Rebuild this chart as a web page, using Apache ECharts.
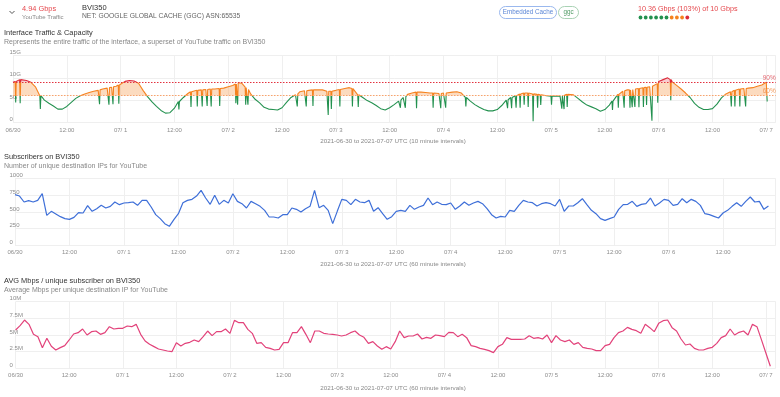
<!DOCTYPE html>
<html>
<head>
<meta charset="utf-8">
<title>BVI350</title>
<script src="https://cdn.jsdelivr.net/npm/echarts@6/dist/echarts.min.js"></script>
<style>
  html, body { margin: 0; padding: 0; background: #fff; }
  #chart { width: 780px; height: 397px; }
</style>
</head>
<body>
<div id="chart"></div>
<script>
// x axis: hours since 2021-06-30 00:00 UTC, a label every 12h
const dayLabels = ['06/30', '07/ 1', '07/ 2', '07/ 3', '07/ 4', '07/ 5', '07/ 6', '07/ 7'];
const halfDayLabel = '12:00';

// interface traffic, Gbps, one reading per hour (h0 .. h168)
const trafficGbps = [
  9.0, 9.2, 9.6, 9.4, 9.0, 8.0, 6.0, 5.0, 4.3, 3.7, 3.0, 3.0, 3.6, 4.5, 5.4, 6.0, 6.4, 6.7, 7.0, 7.2, 7.5, 7.7, 7.9, 8.1,
  8.5, 9.2, 9.4, 9.3, 8.8, 7.2, 5.8, 4.6, 3.6, 2.7, 2.1, 2.2, 3.2, 4.6, 5.6, 6.5, 7.0, 7.2, 7.3, 7.4, 7.5, 7.5, 7.6, 7.7,
  8.0, 8.3, 8.9, 8.8, 7.8, 6.4, 5.2, 4.4, 3.4, 3.0, 2.9, 2.8, 3.3, 4.5, 5.6, 6.2, 6.9, 7.1, 7.2, 7.3, 7.3, 7.3, 7.0, 7.0,
  7.2, 7.4, 7.6, 7.8, 7.3, 6.2, 5.6, 4.9, 4.4, 3.8, 3.1, 2.8, 3.3, 4.0, 4.8, 5.6, 6.3, 6.6, 6.8, 6.8, 6.7, 6.6, 6.5, 6.5,
  6.6, 6.7, 6.8, 6.9, 6.6, 5.6, 4.8, 4.0, 3.4, 2.9, 2.6, 2.6, 2.9, 3.8, 5.0, 5.6, 6.0, 6.4, 6.6, 6.6, 6.4, 6.3, 6.1, 6.0,
  5.9, 5.9, 5.9, 6.1, 6.4, 6.2, 5.4, 4.6, 3.9, 3.5, 3.1, 2.5, 2.9, 3.9, 5.2, 6.3, 7.0, 7.3, 7.4, 7.6, 7.8, 7.9, 8.0, 8.4,
  9.2, 9.6, 10.0, 9.1, 8.3, 7.5, 6.6, 5.6, 4.3, 3.4, 2.9, 2.9, 3.1, 4.1, 5.5, 6.4, 6.9, 7.2, 7.5, 7.6, 7.7, 7.8, 8.1, 8.4,
  9.0
];
// short drops between hourly readings: [hour, level around it, bottom of the drop]
const trafficDips = [
  [0.6, 9.2, 4.5], [1.6, 9.6, 4.3], [6.1, 6.0, 3.0], [19.3, 7.3, 4.1], [21.4, 7.8, 4.0], [22.3, 8.0, 4.1],
  [23.6, 8.4, 4.2], [37.0, 4.7, 2.9], [39.7, 6.9, 3.5], [41.1, 7.2, 3.6], [42.2, 7.3, 3.6], [43.3, 7.4, 3.7],
  [44.2, 7.5, 3.6], [46.1, 7.6, 3.7], [49.7, 8.6, 4.3], [50.1, 8.9, 4.0], [51.9, 7.9, 4.0], [52.4, 7.4, 4.0],
  [63.4, 6.4, 3.6], [65.4, 7.1, 3.6], [66.9, 7.3, 3.7], [70.3, 7.0, 1.7], [71.0, 7.0, 3.0], [72.9, 7.4, 3.6],
  [75.7, 7.6, 3.6], [77.0, 6.2, 3.5], [86.4, 5.0, 3.3], [87.5, 5.8, 3.3], [90.0, 6.8, 3.2], [93.7, 6.6, 3.3],
  [95.4, 6.5, 3.2], [96.5, 6.6, 3.3], [101.0, 5.6, 3.6], [110.3, 5.1, 3.2], [111.2, 5.6, 3.2], [112.2, 6.0, 3.3],
  [113.1, 6.4, 3.3], [114.0, 6.6, 4.0], [114.9, 6.6, 3.5], [116.0, 6.4, 0.3], [117.0, 6.3, 3.3], [117.7, 6.2, 3.9],
  [120.1, 5.9, 4.0], [122.4, 5.9, 3.1], [122.9, 6.0, 3.0], [123.6, 6.3, 3.5], [133.7, 4.8, 2.8], [135.0, 6.3, 3.3],
  [136.3, 7.1, 3.3], [137.6, 7.3, 3.3], [138.1, 7.4, 3.4], [138.7, 7.5, 3.5], [139.6, 7.6, 3.4], [140.6, 7.8, 3.5],
  [141.3, 7.9, 3.9], [142.5, 8.1, 0.4], [143.8, 8.7, 4.4], [146.7, 9.6, 5.0], [160.2, 6.9, 3.6], [161.0, 7.2, 3.6],
  [162.1, 7.5, 3.6], [163.4, 7.6, 3.6]
];
const trafficTail = [[168.2, 4.7]];
const trafficTickLabels = ['0', '5G', '10G', '15G'];

// unique destination IPs, one per hour (h0 .. h166)
const subscribers = [
  760, 740, 650, 670, 650, 675, 775, 450, 510, 470, 430, 400, 390, 420, 490, 485, 595, 510, 550, 600, 560, 585, 650, 610,
  635, 640, 650, 600, 675, 675, 575, 460, 400, 325, 285, 385, 475, 640, 675, 690, 740, 825, 710, 615, 750, 615, 675, 635,
  775, 660, 625, 560, 660, 625, 585, 525, 425, 425, 410, 460, 460, 560, 540, 500, 550, 585, 825, 565, 600, 525, 325, 510,
  690, 675, 610, 690, 650, 640, 675, 510, 565, 475, 390, 430, 510, 525, 510, 600, 540, 575, 600, 710, 610, 650, 615, 610,
  635, 540, 590, 650, 600, 635, 660, 625, 550, 460, 410, 435, 425, 525, 510, 600, 675, 650, 640, 590, 625, 640, 625, 590,
  690, 510, 590, 590, 640, 700, 610, 525, 475, 400, 375, 400, 425, 540, 610, 615, 660, 585, 615, 625, 710, 590, 635, 690,
  675, 600, 615, 700, 640, 690, 660, 600, 475, 460, 435, 410, 485, 525, 585, 640, 585, 660, 725, 650, 660, 540, 590
];

// average Mbps per destination IP, in millions, one per hour (h0 .. h169)
const avgMbps = [
  5.75, 6.4, 7.25, 6.6, 5.1, 4.75, 3.1, 4.5, 3.3, 2.75, 3.1, 3.4, 4.25, 5.15, 5.35, 5.9, 5.0, 5.5, 5.6, 5.1, 5.35, 6.25, 5.9, 6.0,
  6.0, 6.35, 6.25, 6.6, 5.1, 4.1, 3.6, 3.25, 2.9, 2.75, 2.6, 2.5, 3.85, 3.35, 3.75, 3.9, 4.25, 4.0, 4.75, 5.6, 4.9, 5.5, 5.5, 5.9,
  5.25, 7.2, 6.85, 6.85, 5.85, 5.25, 3.75, 3.85, 3.15, 3.0, 2.75, 2.85, 3.85, 3.85, 5.35, 5.35, 6.25, 5.1, 3.85, 5.6, 5.6, 5.25, 5.15, 5.1,
  5.0, 4.85, 5.0, 5.35, 5.6, 5.0, 4.65, 3.75, 4.0, 3.35, 2.85, 3.25, 2.9, 4.0,
  5.6, 4.6, 4.85, 4.85, 5.15, 4.4, 4.65, 4.5, 5.0, 4.9, 4.75, 5.4, 5.35, 4.75, 5.1, 4.6, 3.4, 3.25, 3.0, 2.85, 2.65, 2.35, 3.25, 3.6,
  4.6, 4.35, 4.35, 4.35, 4.4, 4.9, 4.5, 4.6, 4.4, 5.0, 3.85, 4.9, 4.25, 4.0, 4.25, 3.6, 3.85, 3.15, 3.0, 2.9, 2.65, 2.65, 3.4, 3.6,
  4.6, 5.35, 5.6, 6.15, 5.85, 5.65, 5.25, 6.6, 6.1, 5.5, 6.75, 7.15, 7.25, 6.1, 5.6, 4.4, 3.5, 3.65, 3.0, 2.75, 2.75, 3.0, 3.15, 3.75,
  4.6, 4.9, 5.9, 5.0, 5.4, 5.6, 5.0, 6.6, 6.25, 4.3, 2.3, 0.3
];
const avgTickLabels = ['0', '2.5M', '5M', '7.5M', '10M'];

const FONT = 'Liberation Sans';
const GREEN = '#23914f';
const ORANGE = '#f5821f';
const RED = '#dc2a3a';

const trafficPoints = trafficGbps.map((v, h) => [h, v]);
trafficDips.forEach(([h, top, low]) => {
  trafficPoints.push([h - 0.12, top], [h, low], [h + 0.12, top]);
});
trafficTail.forEach(p => trafficPoints.push(p));
trafficPoints.sort((a, b) => a[0] - b[0]);

function hourLabel(h) {
  if (h % 24 === 0) return dayLabels[h / 24] || '';
  return halfDayLabel;
}

function xAxisFor(gridIndex, max) {
  return {
    type: 'value', gridIndex, min: 0, max, interval: 12,
    axisLine: { show: false }, axisTick: { show: false },
    splitLine: { show: true, lineStyle: { color: '#efefef', width: 1 } },
    axisLabel: {
      formatter: hourLabel, showMaxLabel: false, margin: 4.5,
      color: '#8c8c8c', fontSize: 6, fontFamily: FONT
    }
  };
}

function yAxisFor(gridIndex, max, interval, fmt, margin) {
  return {
    type: 'value', gridIndex, min: 0, max, interval,
    axisLine: { show: false }, axisTick: { show: false },
    splitLine: { lineStyle: { color: '#efefef', width: 1 } },
    axisLabel: {
      inside: true, align: 'left', verticalAlign: 'bottom', margin,
      formatter: fmt, color: '#8c8c8c', fontSize: 6, fontFamily: FONT
    }
  };
}

function txt(x, y, text, size, color, extra) {
  return {
    type: 'text', x, y, silent: true,
    style: Object.assign({
      text, fill: color, fontSize: size, fontFamily: FONT,
      align: 'left', verticalAlign: 'middle'
    }, extra || {})
  };
}

const dotColors = [GREEN, GREEN, GREEN, GREEN, GREEN, GREEN, ORANGE, ORANGE, ORANGE, RED];

const graphics = [
  { type: 'polyline', silent: true, shape: { points: [[9.5, 11], [12, 13.5], [14.5, 11]] },
    style: { stroke: '#555', lineWidth: 1, fill: null } },
  txt(22, 8.5, '4.94 Gbps', 7.4, '#e5484d'),
  txt(22, 17.5, 'YouTube Traffic', 6, '#888'),
  txt(82, 7.5, 'BVI350', 7.5, '#333'),
  txt(82, 16.5, 'NET: GOOGLE GLOBAL CACHE (GGC) ASN:65535', 6.75, '#666'),
  { type: 'rect', silent: true, shape: { x: 499.5, y: 6.5, width: 57, height: 12, r: 6 },
    style: { fill: '#fff', stroke: '#9ab8ee', lineWidth: 1 } },
  txt(528, 12.5, 'Embedded Cache', 6.3, '#5b86d6', { align: 'center' }),
  { type: 'rect', silent: true, shape: { x: 558.5, y: 6.5, width: 20, height: 12, r: 6 },
    style: { fill: '#fff', stroke: '#a9d2b4', lineWidth: 1 } },
  txt(568.5, 12.5, 'ggc', 6.3, '#4f9a64', { align: 'center' }),
  txt(638, 9, '10.36 Gbps (103%) of 10 Gbps', 7.2, '#e5484d'),

  txt(4, 33, 'Interface Traffic & Capacity', 7.4, '#333', { fontWeight: 500 }),
  txt(4, 42, 'Represents the entire traffic of the interface, a superset of YouTube traffic on BVI350', 7, '#888'),
  txt(393, 141, '2021-06-30 to 2021-07-07 UTC (10 minute intervals)', 6.25, '#888', { align: 'center' }),

  txt(4, 157, 'Subscribers on BVI350', 7.4, '#333', { fontWeight: 500 }),
  txt(4, 166, 'Number of unique destination IPs for YouTube', 7, '#888'),
  txt(393, 264, '2021-06-30 to 2021-07-07 UTC (60 minute intervals)', 6.25, '#888', { align: 'center' }),

  txt(4, 281, 'AVG Mbps / unique subscriber on BVI350', 7.4, '#333', { fontWeight: 500 }),
  txt(4, 290, 'Average Mbps per unique destination IP for YouTube', 7, '#888'),
  txt(393, 388, '2021-06-30 to 2021-07-07 UTC (60 minute intervals)', 6.25, '#888', { align: 'center' })
];
dotColors.forEach((c, i) => {
  graphics.push({ type: 'circle', silent: true, shape: { cx: 640.5 + i * 5.2, cy: 17.5, r: 1.9 }, style: { fill: c } });
});

const chart = echarts.init(document.getElementById('chart'), null, { renderer: 'canvas' });

chart.setOption({
  animation: false,
  backgroundColor: '#fff',
  textStyle: { fontFamily: FONT },
  graphic: graphics,
  grid: [
    { left: 13, top: 55.5, width: 762.7, height: 67 },
    { left: 15, top: 178.7, width: 760.7, height: 66.6 },
    { left: 15.6, top: 301.7, width: 760.1, height: 66.6 }
  ],
  xAxis: [
    xAxisFor(0, 170.1),
    xAxisFor(1, 167.6),
    xAxisFor(2, 170.2)
  ],
  yAxis: [
    yAxisFor(0, 15, 5, v => trafficTickLabels[Math.round(v / 5)], -3.5),
    yAxisFor(1, 1000, 250, v => String(v), -5.5),
    yAxisFor(2, 10, 2.5, v => avgTickLabels[Math.round(v / 2.5)], -6)
  ],
  visualMap: {
    show: false, seriesIndex: 0, dimension: 1,
    pieces: [
      { lt: 6, color: GREEN },
      { gte: 6, lt: 9, color: ORANGE },
      { gte: 9, color: RED }
    ]
  },
  series: [
    {
      id: 'traffic', type: 'line', xAxisIndex: 0, yAxisIndex: 0,
      data: trafficPoints, showSymbol: false, symbol: 'none',
      lineStyle: { width: 1.1 },
      areaStyle: { origin: 6, opacity: 1, color: 'rgba(247,165,95,0.4)' },
      markLine: {
        silent: true, symbol: 'none',
        label: { position: 'insideEndTop', fontSize: 6.5, fontFamily: FONT, distance: [0, 1] },
        data: [
          { yAxis: 9, lineStyle: { color: '#e3323f', type: [1.5, 1.5], width: 1 },
            label: { formatter: '90%', color: '#e46a73' } },
          { yAxis: 6, lineStyle: { color: '#f6a36e', type: [1.5, 1.5], width: 1 },
            label: { formatter: '60%', color: '#f39a5c' } }
        ]
      }
    },
    {
      type: 'line', xAxisIndex: 1, yAxisIndex: 1,
      data: subscribers.map((v, h) => [h, v]),
      showSymbol: false, symbol: 'none',
      lineStyle: { width: 1.2, color: '#3e6fd8' }, itemStyle: { color: '#3e6fd8' }
    },
    {
      type: 'line', xAxisIndex: 2, yAxisIndex: 2,
      data: avgMbps.map((v, h) => [h, v]),
      showSymbol: false, symbol: 'none',
      lineStyle: { width: 1.2, color: '#e2427a' }, itemStyle: { color: '#e2427a' }
    }
  ]
});

// fill only above the 60% line: orange up to 90%, pink above it
const H = 397;
const y9 = chart.convertToPixel({ yAxisIndex: 0 }, 9) / H;
const y6 = chart.convertToPixel({ yAxisIndex: 0 }, 6) / H;
chart.setOption({
  series: [{
    id: 'traffic',
    areaStyle: {
      color: {
        type: 'linear', x: 0, y: 0, x2: 0, y2: H, global: true,
        colorStops: [
          { offset: 0, color: 'rgba(236,110,120,0.35)' },
          { offset: y9, color: 'rgba(236,110,120,0.35)' },
          { offset: y9, color: 'rgba(247,165,95,0.4)' },
          { offset: y6, color: 'rgba(247,165,95,0.4)' },
          { offset: y6, color: 'rgba(255,255,255,0)' },
          { offset: 1, color: 'rgba(255,255,255,0)' }
        ]
      }
    }
  }]
});
</script>
</body>
</html>
